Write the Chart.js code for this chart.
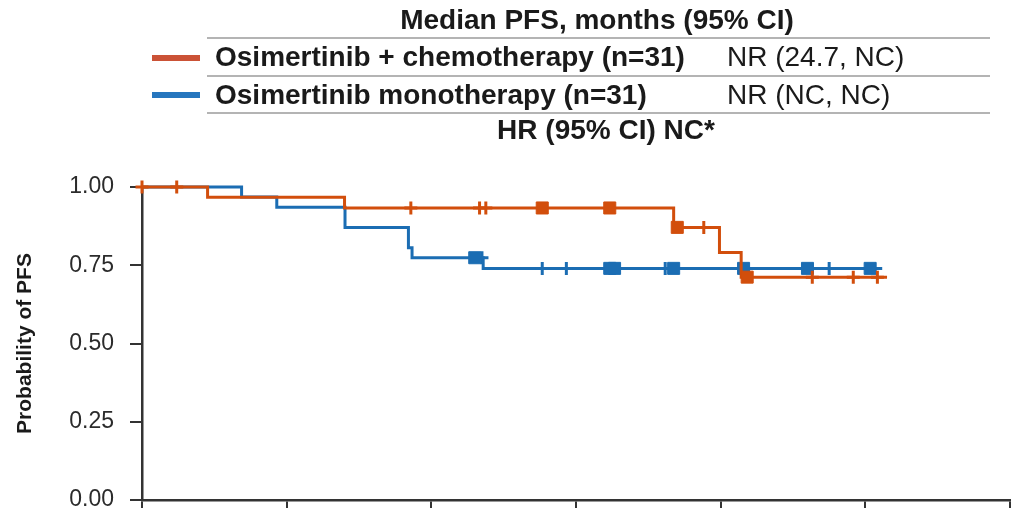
<!DOCTYPE html>
<html>
<head>
<meta charset="utf-8">
<script src="https://cdn.jsdelivr.net/npm/chart.js@4/dist/chart.umd.min.js"></script>
<style>
  body { margin: 0; background: #fff; }
  #wrap { position: relative; width: 1012px; height: 508px; overflow: hidden; font-family: 'Liberation Sans', Arial, sans-serif; color: #1a1a1a; }
  #wrap canvas { position: absolute; left: 0; top: 0; }
  .t { position: absolute; font-size: 28px; line-height: 28px; white-space: nowrap; }
  .b { font-weight: bold; }
  .c { text-align: center; width: 600px; }
  .rule { position: absolute; left: 207px; width: 783px; height: 2px; background: #b4b4b4; }
  .sw { position: absolute; left: 152px; width: 48px; height: 6px; }
</style>
</head>
<body>
<div id="wrap">
  <canvas id="pfsChart" width="1012" height="508"></canvas>

  <div class="t b c" style="left:297px; top:6px;">Median PFS, months (95% CI)</div>
  <div class="rule" style="top:37px;"></div>
  <div class="sw" style="top:55px; background:#cb5236;"></div>
  <div class="t b" style="left:215px; top:43px;">Osimertinib + chemotherapy (n=31)</div>
  <div class="t" style="left:727px; top:43px;">NR (24.7, NC)</div>
  <div class="rule" style="top:75px;"></div>
  <div class="sw" style="top:92px; background:#2676be;"></div>
  <div class="t b" style="left:215px; top:81px;">Osimertinib monotherapy (n=31)</div>
  <div class="t" style="left:727px; top:81px;">NR (NC, NC)</div>
  <div class="rule" style="top:112px;"></div>
  <div class="t b c" style="left:306px; top:116px;">HR (95% CI) NC*</div>
</div>

<script>
// Kaplan-Meier steps, time in months
const comboTimes = [0, 2.72, 8.4, 22.05, 23.95, 24.85, 30.9];
const comboSurv = [1.0, 0.967, 0.933, 0.871, 0.791, 0.712, 0.712];
const comboCensor = [0, 1.44, 11.15, 14.0, 14.26, 23.3, 27.8, 29.5, 30.5];
const comboCensorBox = [16.6, 19.4, 22.2, 25.1];

const monoTimes = [0, 4.13, 5.59, 8.42, 11.05, 11.2, 14.15, 30.7];
const monoSurv = [1.0, 0.968, 0.935, 0.871, 0.806, 0.774, 0.740, 0.740];
const monoCensor = [14.1, 16.6, 17.6, 21.7, 28.5];
const monoCensorBox = [13.8, 19.4, 19.6, 22.05, 24.95, 27.6, 30.2];

const xTicks = [0, 6, 12, 18, 24, 30, 36];
const yTicks = [0, 0.25, 0.5, 0.75, 1.0];

const RED = '#d24e0c';
const BLUE = '#1b6db3';

function survAt(times, surv, t) {
  let v = surv[0];
  for (let i = 0; i < times.length; i++) {
    if (times[i] <= t) v = surv[i];
  }
  return v;
}

function curve(times, surv) {
  return times.map((t, i) => ({ x: t, y: surv[i] }));
}

function marks(censor, times, surv) {
  return censor.map(t => ({ x: t, y: survAt(times, surv, t) }));
}

function stepDataset(data, color) {
  return {
    type: 'line', data, borderColor: color, borderWidth: 3,
    stepped: 'before', pointRadius: 0, fill: false, clip: false
  };
}

function censorDataset(data, color, style) {
  const box = style === 'rect';
  return {
    type: 'scatter', data, showLine: false, clip: false,
    pointStyle: style, pointRadius: box ? 8.5 : 6.5,
    borderColor: color, backgroundColor: color, borderWidth: box ? 1 : 3
  };
}

// no extra room for overflowing tick labels: the plot runs to the canvas edges
function noPad(axis) {
  axis.paddingTop = 0;
  axis.paddingBottom = 0;
  axis.paddingLeft = 0;
  axis.paddingRight = 0;
}

new Chart(document.getElementById('pfsChart').getContext('2d'), {
  type: 'line',
  data: {
    datasets: [
      censorDataset(marks(comboCensorBox, comboTimes, comboSurv), RED, 'rect'),
      censorDataset(marks(comboCensor, comboTimes, comboSurv), RED, 'cross'),
      stepDataset(curve(comboTimes, comboSurv), RED),
      censorDataset(marks(monoCensorBox, monoTimes, monoSurv), BLUE, 'rect'),
      censorDataset(marks(monoCensor, monoTimes, monoSurv), BLUE, 'cross'),
      stepDataset(curve(monoTimes, monoSurv), BLUE)
    ]
  },
  options: {
    responsive: false,
    animation: false,
    layout: { autoPadding: false, padding: { top: 187, right: 2, left: 0, bottom: 0 } },
    plugins: { legend: { display: false }, tooltip: { enabled: false } },
    scales: {
      x: {
        type: 'linear', min: 0, max: 36,
        afterBuildTicks: axis => { axis.ticks = xTicks.map(v => ({ value: v })); },
        afterFit: axis => { axis.height = 8; noPad(axis); },
        ticks: { display: false },
        grid: { drawOnChartArea: false, drawTicks: true, tickLength: 8, color: '#333', lineWidth: 2 },
        border: { color: '#333', width: 2.5 }
      },
      y: {
        min: 0, max: 1,
        afterBuildTicks: axis => { axis.ticks = yTicks.map(v => ({ value: v })); },
        afterFit: axis => { axis.width = 142; noPad(axis); },
        ticks: {
          callback: v => v.toFixed(2),
          color: '#2b2b2b', padding: 16,
          font: { family: "'Liberation Sans', Arial, sans-serif", size: 23 }
        },
        grid: { drawOnChartArea: false, drawTicks: true, tickLength: 12, color: '#333', lineWidth: 2 },
        border: { color: '#333', width: 2.5 },
        title: {
          display: true, text: 'Probability of PFS', color: '#1a1a1a',
          padding: { top: 13, bottom: 0 },
          font: { family: "'Liberation Sans', Arial, sans-serif", size: 21, weight: 'bold' }
        }
      }
    }
  }
});
</script>
</body>
</html>
